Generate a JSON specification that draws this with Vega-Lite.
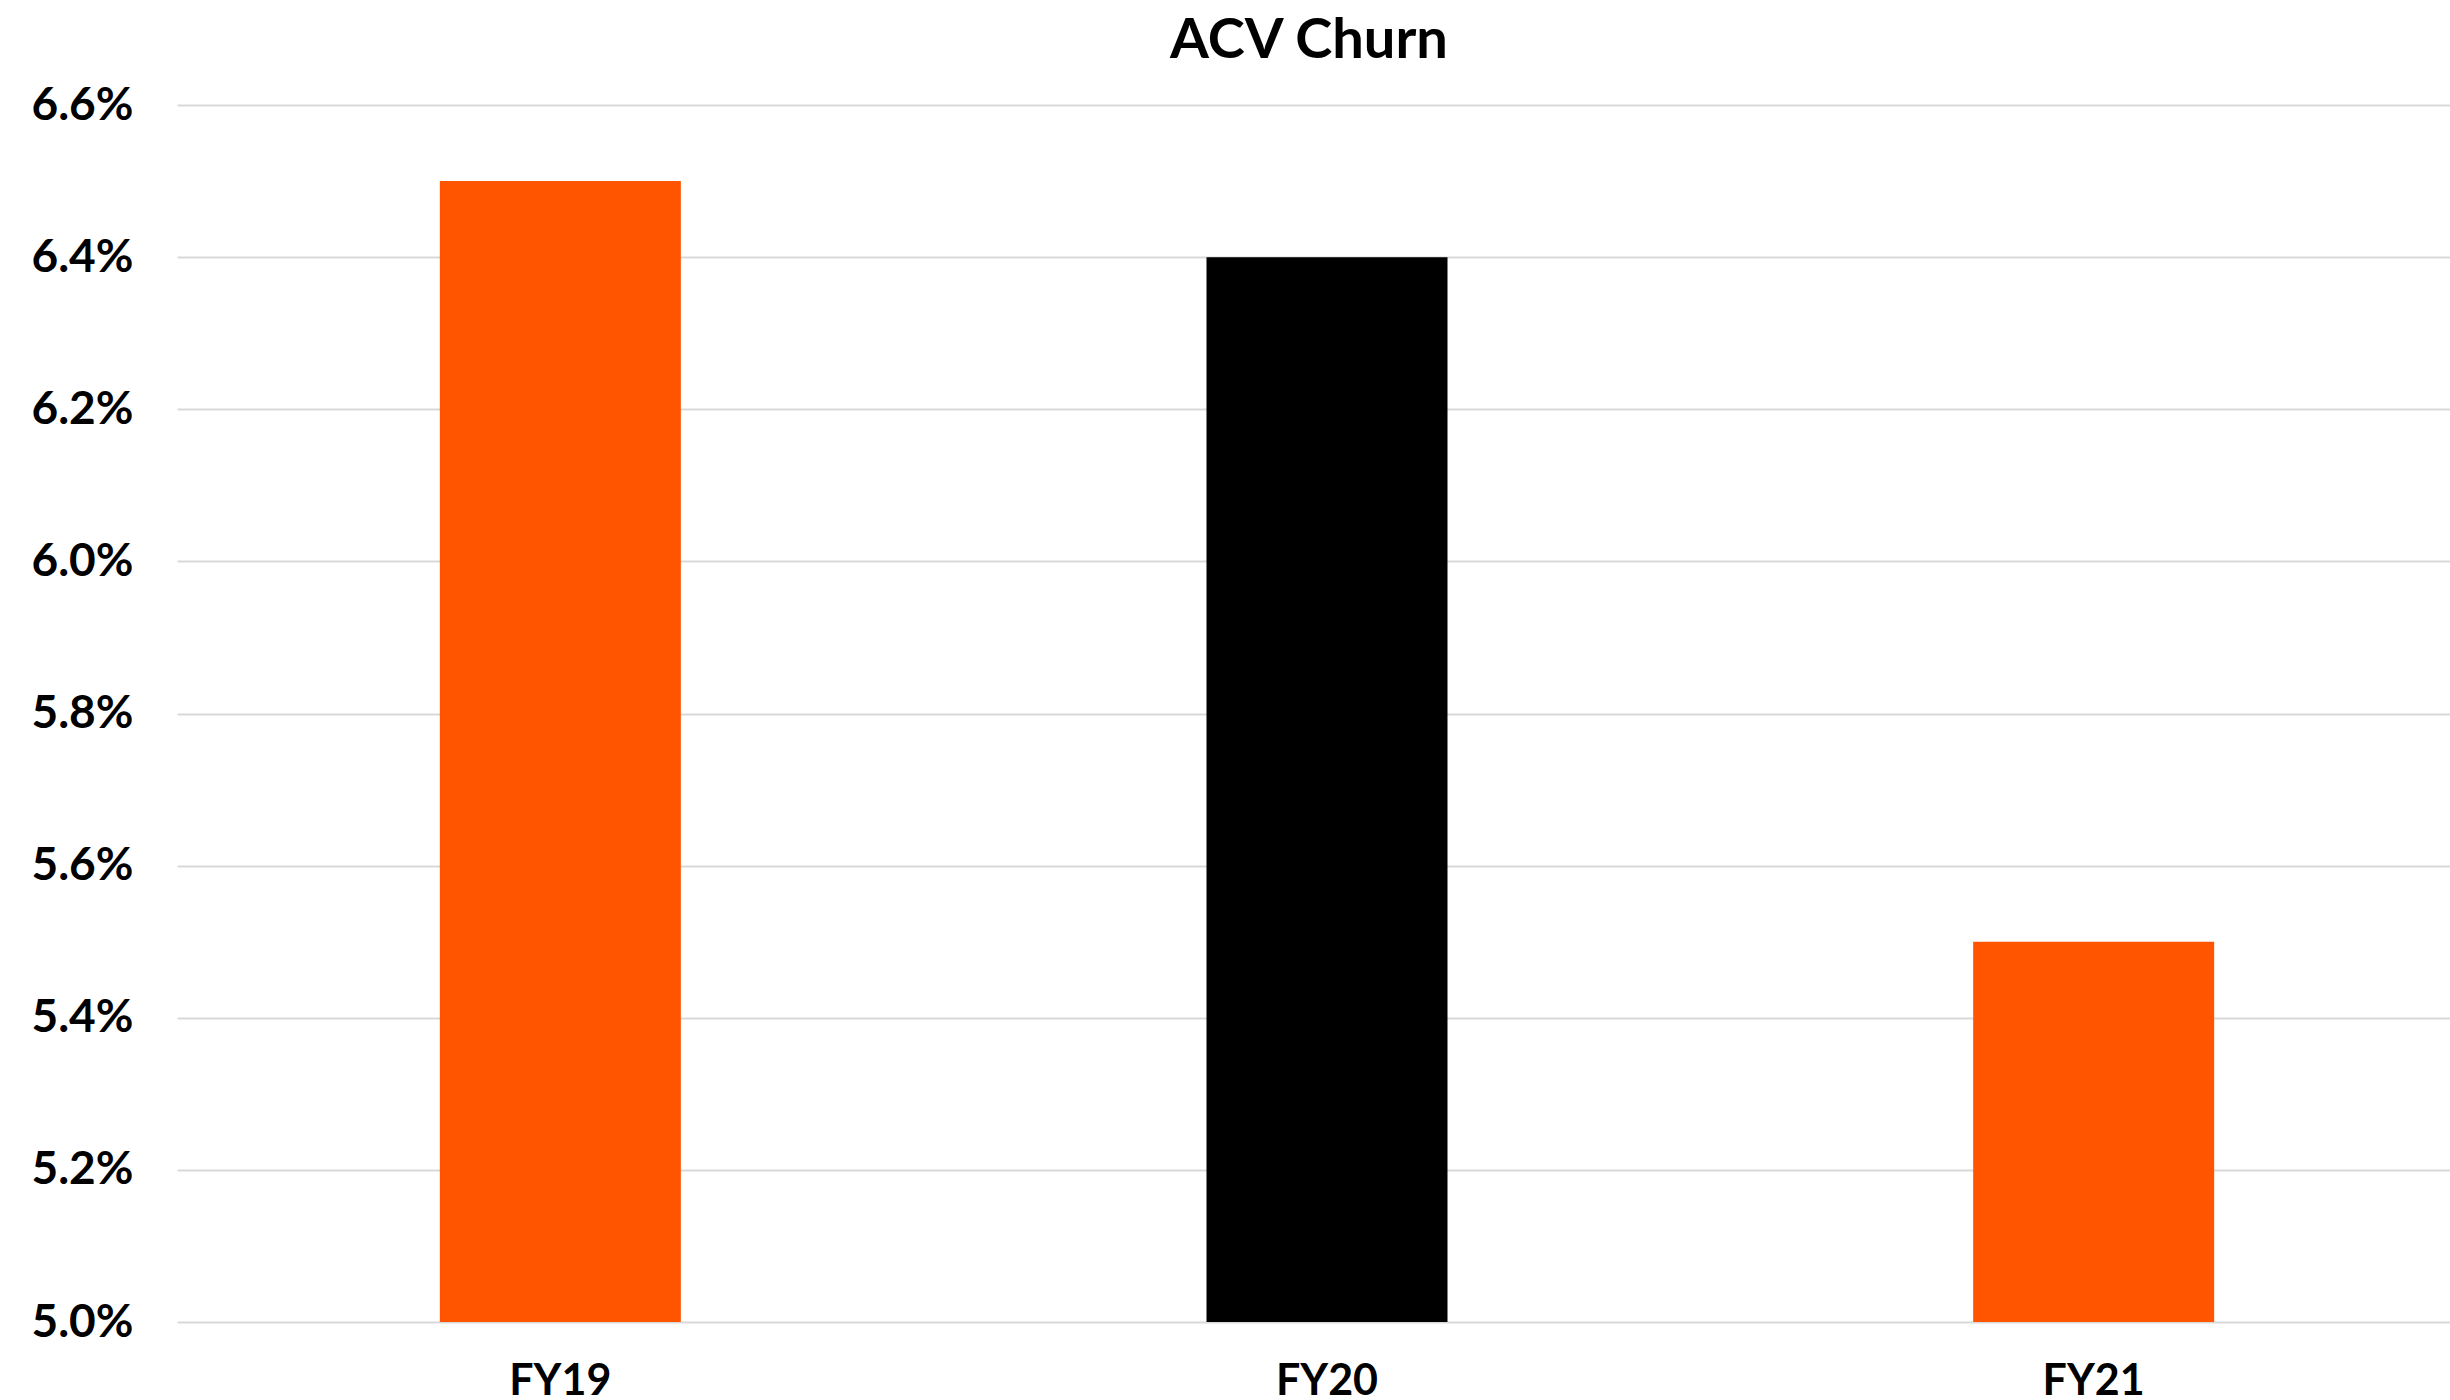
{
  "$schema": "https://vega.github.io/schema/vega-lite/v6.json",
  "autosize": {"type": "none"},
  "padding": {"left": 177, "top": 105, "right": 0, "bottom": 78},
  "width": 2300,
  "height": 1217,
  "background": "white",
  "title": {"text": "ACV Churn", "font": "Lato", "fontSize": 56, "fontWeight": "bold", "color": "#000000", "anchor": "middle", "offset": 12, "dx": -18},
  "data": {"values": [
    {"Year": "FY19", "Churn": 0.065},
    {"Year": "FY20", "Churn": 0.064},
    {"Year": "FY21", "Churn": 0.055}
  ]},
  "mark": {"type": "bar", "width": 241, "clip": true},
  "encoding": {
    "x": {"field": "Year", "type": "nominal", "sort": null,
      "scale": {"paddingInner": 0, "paddingOuter": 0},
      "axis": {"title": null, "labelAngle": 0, "domain": false, "ticks": false, "labelPadding": 38, "labelFont": "Lato", "labelFontSize": 43, "labelFontWeight": "bold", "labelColor": "#000000"}},
    "y": {"field": "Churn", "type": "quantitative",
      "scale": {"domain": [0.05, 0.066], "zero": false, "nice": false},
      "axis": {"title": null, "format": ".1%", "values": [0.05, 0.052, 0.054, 0.056, 0.058, 0.06, 0.062, 0.064, 0.066], "domain": false, "ticks": false, "labelPadding": 44, "labelFont": "Lato", "labelFontSize": 46, "labelFontWeight": "bold", "labelColor": "#000000", "gridColor": "#d9d9d9", "gridWidth": 2}},
    "color": {"field": "Year", "type": "nominal", "legend": null,
      "scale": {"domain": ["FY19", "FY20", "FY21"], "range": ["#FF5500", "#000000", "#FF5500"]}}
  },
  "config": {"view": {"stroke": null}}
}
